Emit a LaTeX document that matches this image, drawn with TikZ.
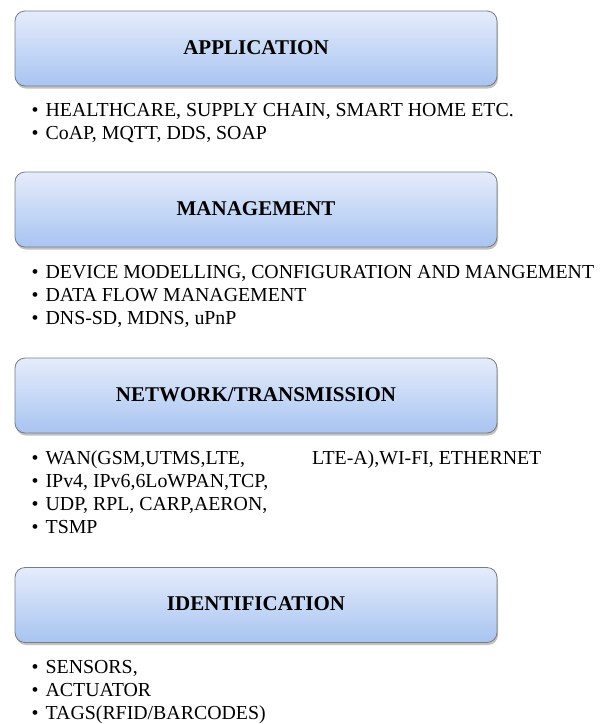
\documentclass[tikz,border=0pt]{standalone}
\usepackage{fontspec}
\setmainfont{Liberation Serif}
\usetikzlibrary{shadows}

\definecolor{layertop}{RGB}{229,236,251}
\definecolor{layerbot}{RGB}{168,196,241}
\definecolor{layeredge}{RGB}{120,124,132}

\tikzset{
  layerbox/.style={rectangle, rounded corners=10pt, draw=layeredge, line width=0.8pt,
    top color=layertop, bottom color=layerbot,
    minimum width=482pt, minimum height=75pt, inner sep=0pt,
    drop shadow={shadow xshift=1pt, shadow yshift=-2.5pt, opacity=0.35, fill=black!70}},
  layertitle/.style={anchor=base, inner sep=0pt,
    font=\fontsize{21}{24}\selectfont\bfseries},
  item/.style={anchor=base west, inner sep=0pt,
    font=\fontsize{19.85}{23}\selectfont}
}
\newcommand{\bul}{•\hspace{7pt}}

\begin{document}
\begin{tikzpicture}[x=1pt,y=-1pt]
  \useasboundingbox (0,0) rectangle (611,724);

  % application layer
  \node[layerbox] (app) at (256,48.5) {};
  \node[layertitle] (appT) at (256,54) {APPLICATION};
  \node[item] (app1) at (31.5,116.5) {\bul HEALTHCARE, SUPPLY CHAIN, SMART HOME ETC.};
  \node[item] (app2) at (31.5,139.5) {\bul CoAP, MQTT, DDS, SOAP};

  % management layer
  \node[layerbox] (mgt) at (256,209.5) {};
  \node[layertitle] (mgtT) at (256,215) {MANAGEMENT};
  \node[item] (mgt1) at (31.5,278.5) {\bul DEVICE MODELLING, CONFIGURATION AND MANGEMENT};
  \node[item] (mgt2) at (31.5,301.5) {\bul DATA FLOW MANAGEMENT};
  \node[item] (mgt3) at (31.5,324.5) {\bul DNS-SD, MDNS, uPnP};

  % network / transmission layer
  \node[layerbox] (net) at (256,395.5) {};
  \node[layertitle] (netT) at (256,401) {NETWORK/TRANSMISSION};
  \node[item] (net1) at (31.5,464.5) {\bul WAN(GSM,UTMS,LTE,};
  \node[item] (net1b) at (312,464.5) {LTE-A),WI-FI, ETHERNET};
  \node[item] (net2) at (31.5,487.5) {\bul IPv4, IPv6,6LoWPAN,TCP,};
  \node[item] (net3) at (31.5,510.5) {\bul UDP, RPL, CARP,AERON,};
  \node[item] (net4) at (31.5,533.5) {\bul TSMP};

  % identification layer
  \node[layerbox] (idf) at (256,605) {};
  \node[layertitle] (idfT) at (256,610.5) {IDENTIFICATION};
  \node[item] (idf1) at (31.5,673.5) {\bul SENSORS,};
  \node[item] (idf2) at (31.5,696.5) {\bul ACTUATOR};
  \node[item] (idf3) at (31.5,719.5) {\bul TAGS(RFID/BARCODES)};
\end{tikzpicture}
\end{document}
